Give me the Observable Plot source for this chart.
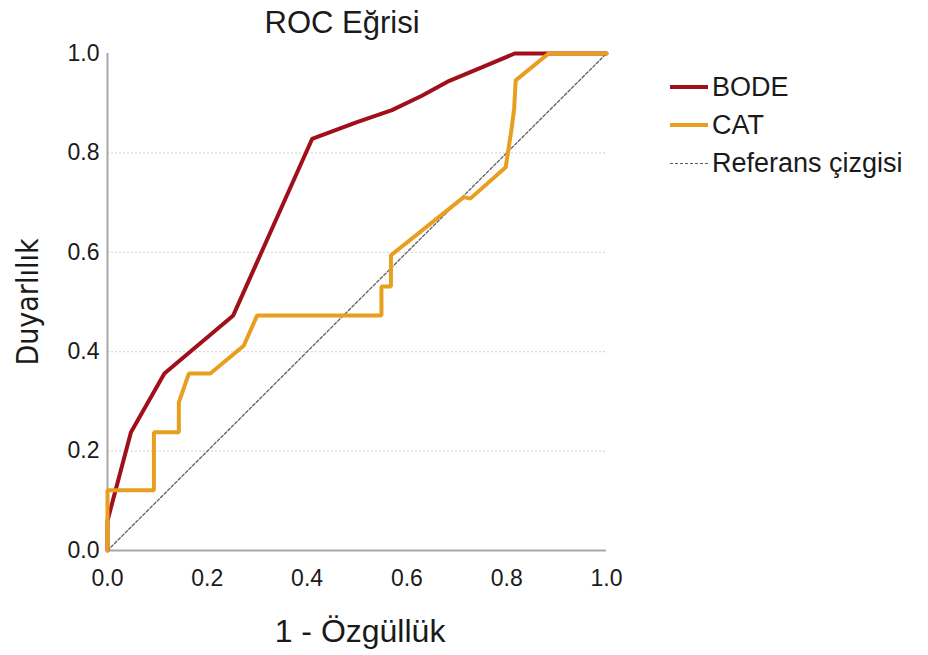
<!DOCTYPE html>
<html>
<head>
<meta charset="utf-8">
<script src="https://cdn.jsdelivr.net/npm/d3@7"></script>
<script src="https://cdn.jsdelivr.net/npm/@observablehq/plot@0.6"></script>
<style>
  body { margin: 0; background: white; }
  #wrap { position: relative; width: 928px; height: 655px; font-family: "Liberation Sans", Arial, sans-serif; }
  #legend { position: absolute; left: 670px; top: 68px; color: #1a1a1a; }
  .row { display: flex; align-items: center; height: 38px; font-size: 27px; }
  .sw { width: 38px; height: 0; margin-right: 4px; }
</style>
</head>
<body>
<div id="wrap"></div>
<script>
// Data
const tickValues = [0, 0.2, 0.4, 0.6, 0.8, 1.0];
const gridValues = [0.2, 0.4, 0.6, 0.8];

const bodeFpr = [0, 0, 0.047, 0.114, 0.252, 0.41, 0.5, 0.57, 0.63, 0.685, 0.75, 0.816, 0.88, 1];
const bodeTpr = [0, 0.06, 0.238, 0.356, 0.473, 0.828, 0.862, 0.886, 0.915, 0.945, 0.972, 1, 1, 1];

const catFpr = [0, 0, 0.093, 0.093, 0.143, 0.143, 0.163, 0.206, 0.273, 0.30, 0.549, 0.549, 0.568, 0.568, 0.714, 0.727, 0.798, 0.81, 0.815, 0.818, 0.884, 1];
const catTpr = [0, 0.121, 0.121, 0.238, 0.238, 0.298, 0.356, 0.356, 0.412, 0.473, 0.473, 0.531, 0.531, 0.594, 0.711, 0.708, 0.771, 0.85, 0.89, 0.946, 1, 1];

const refFpr = [0, 1];
const refTpr = [0, 1];

const series = ["BODE", "CAT", "Referans çizgisi"];
const colors = ["#a0101a", "#e89e1e", "#5f5f5f"];

const title = "ROC Eğrisi";
const xLabel = "1 - Özgüllük";
const yLabel = "Duyarlılık";

const toRows = (xs, ys) => xs.map((x, i) => ({x, y: ys[i]}));
const bode = toRows(bodeFpr, bodeTpr);
const cat = toRows(catFpr, catTpr);
const ref = toRows(refFpr, refTpr);
const fmt = d3.format(".1f");

const chart = Plot.plot({
  width: 928,
  height: 655,
  marginLeft: 107,
  marginRight: 322,
  marginTop: 53,
  marginBottom: 105,
  style: { fontFamily: "'Liberation Sans', Arial, sans-serif", color: "#1a1a1a", background: "white", overflow: "visible" },
  x: { domain: [0, 1] },
  y: { domain: [0, 1] },
  marks: [
    Plot.ruleY(gridValues, { stroke: "#d9d9d9", strokeDasharray: "2,2", strokeWidth: 1.2 }),
    Plot.axisX({ ticks: tickValues, tickFormat: fmt, tickSize: 0, tickPadding: 19, fontSize: 23, label: null }),
    Plot.axisY({ ticks: tickValues, tickFormat: fmt, tickSize: 0, tickPadding: 8, fontSize: 23, label: null }),
    Plot.ruleX([0], { stroke: "#a8a8a8", strokeWidth: 2 }),
    Plot.ruleY([0], { stroke: "#a8a8a8", strokeWidth: 2 }),
    Plot.line(ref, { x: "x", y: "y", stroke: colors[2], strokeWidth: 1.3, strokeDasharray: "3,2" }),
    Plot.line(bode, { x: "x", y: "y", stroke: colors[0], strokeWidth: 4, strokeLinejoin: "miter" }),
    Plot.line(cat, { x: "x", y: "y", stroke: colors[1], strokeWidth: 4, strokeLinejoin: "miter" }),
    Plot.text([title], { text: d => d, frameAnchor: "top", textAnchor: "middle", lineAnchor: "middle", dx: -15, dy: -30, fontSize: 31, fill: "#1a1a1a" }),
    Plot.text([xLabel], { text: d => d, frameAnchor: "bottom", textAnchor: "middle", lineAnchor: "middle", dx: 3, dy: 81, fontSize: 32, fill: "#1a1a1a" }),
    Plot.text([yLabel], { text: d => d, frameAnchor: "left", textAnchor: "middle", dx: -79, dy: 0, rotate: -90, fontSize: 30, fill: "#1a1a1a", fontFamily: "'DejaVu Sans Condensed', 'Liberation Sans Narrow', sans-serif", fontStretch: "condensed" })
  ]
});

const wrap = document.getElementById("wrap");
wrap.appendChild(chart);

const legend = document.createElement("div");
legend.id = "legend";
series.forEach((name, i) => {
  const row = document.createElement("div");
  row.className = "row";
  const sw = document.createElement("div");
  sw.className = "sw";
  sw.style.borderTop = i < 2 ? `4px solid ${colors[i]}` : `1.5px dashed ${colors[i]}`;
  const label = document.createElement("span");
  label.textContent = name;
  row.appendChild(sw);
  row.appendChild(label);
  legend.appendChild(row);
});
wrap.appendChild(legend);
</script>
</body>
</html>
